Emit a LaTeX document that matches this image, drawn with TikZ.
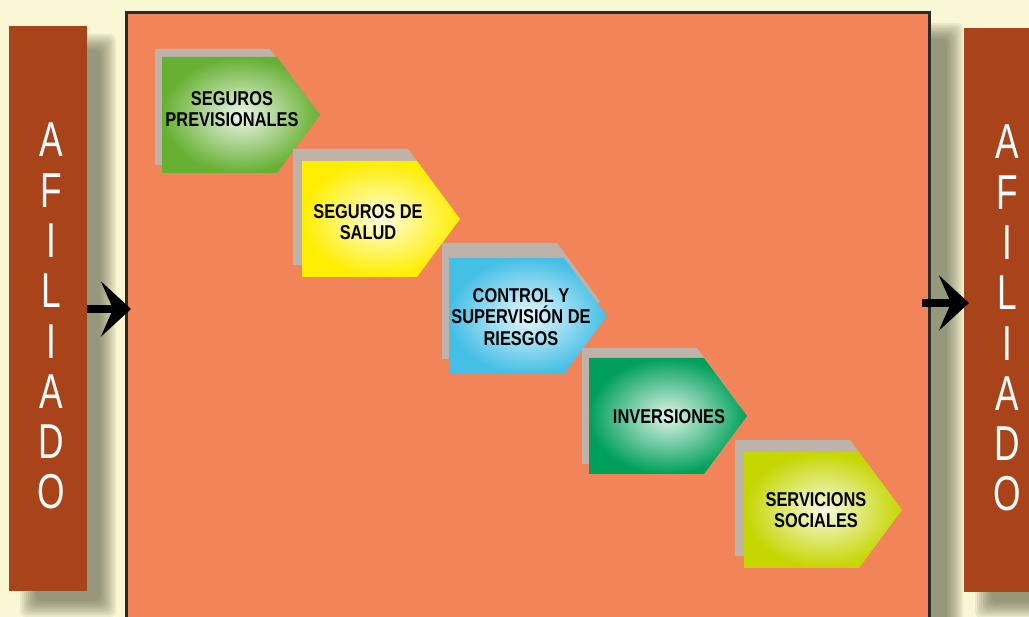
\documentclass[tikz,border=0pt]{standalone}
\usepackage{fontspec}
\usetikzlibrary{arrows.meta}
\newfontfamily\labfont{Liberation Sans Bold}[FakeStretch=0.82]
\newfontfamily\barfont{Liberation Sans}[FakeStretch=0.72]
\definecolor{cream}{HTML}{FAF7D5}
\definecolor{barc}{HTML}{A9441A}
\definecolor{mainc}{HTML}{F2845A}
\definecolor{grayc}{HTML}{BDB3AA}
\definecolor{borderc}{HTML}{2A2A2A}
\definecolor{shadc}{HTML}{55553F}
\definecolor{cgreen}{HTML}{66B032}
\definecolor{cyellow}{HTML}{FFEE00}
\definecolor{cblue}{HTML}{45BFE6}
\definecolor{cdgreen}{HTML}{00A05A}
\definecolor{cyg}{HTML}{C5D600}
\tikzset{
  sidebar/.style={fill=barc, minimum width=78pt, minimum height=565pt, inner sep=0pt},
  letter/.style={text=white, font=\barfont\fontsize{49}{49}\selectfont, inner sep=0pt, anchor=center},
  lab/.style={font=\labfont\fontsize{20}{21.5}\selectfont, align=center, text=black, inner sep=0pt},
  bigarrow/.style={line width=7.5pt, -{Stealth[length=30pt,width=55pt,inset=12pt]}},
  softshadow/.style={fill=shadc, opacity=0.09},
}
% soft shadow: #1 x1, #2 y1, #3 x2, #4 y2
\newcommand{\softshad}[4]{%
  \foreach \r in {9,7,...,-7}{
    \fill[softshadow, rounded corners=6pt] (#1-\r,#2-\r) rectangle (#3+\r,#4+\r);
  }
}
% #1 left, #2 top, #3 gray left, #4 gray top, #5 colour
\newcommand{\pentag}[5]{%
  \fill[grayc] (#3,#4) -- ++(115,0) -- ++(43,58) -- ++(-43,58) -- ++(-115,0) -- cycle;
  \shade[inner color=white!88!#5, outer color=#5] (#1,#2) -- ++(115,0) -- ++(43,58) -- ++(-43,58) -- ++(-115,0) -- cycle;
}
\begin{document}
\begin{tikzpicture}[x=1pt,y=-1pt]
\fill[cream] (0,0) rectangle (1029,617);
\useasboundingbox (0,0) rectangle (1029,617);
% shadows
\softshad{150}{32}{954}{660}
\softshad{29}{43}{107}{608}
\softshad{984}{45}{1060}{609}
% main panel
\node[fill=mainc, draw=borderc, line width=3pt, minimum width=803pt, minimum height=640pt, inner sep=0pt]
  (main) at (527.5,333) {};
% side bars
\node[sidebar] (lb) at (48,308.5) {};
\node[sidebar, minimum width=80pt, minimum height=564pt] (rb) at (1004,310) {};
\foreach \c [count=\i from 0] in {A,F,I,L,I,A,D,O}{
  \node[letter] (l\i) at (51,140+50.3*\i) {\c};
  \node[letter] (r\i) at (1007,142+50.3*\i) {\c};
}
% arrows
\coordinate (la) at (131,309);
\coordinate (ra) at (969,303);
\coordinate (rs) at (922,303);
\draw[bigarrow] (lb.east |- la) -- (la);
\draw[bigarrow] (rs) -- (ra);
% pentagons
\pentag{162}{57}{155}{49}{cgreen}
\pentag{302}{161}{293}{149}{cyellow}
\pentag{449}{258}{442}{243}{cblue}
\pentag{589}{358}{582}{348}{cdgreen}
\pentag{744}{452}{735}{440}{cyg}
\node[lab] (t1) at (232,109) {SEGUROS\\PREVISIONALES};
\node[lab] (t2) at (368,222) {SEGUROS DE\\SALUD};
\node[lab] (t3) at (521,317) {CONTROL Y\\SUPERVISIÓN DE\\RIESGOS};
\node[lab] (t4) at (669,417) {INVERSIONES};
\node[lab] (t5) at (816,510) {SERVICIONS\\SOCIALES};
\end{tikzpicture}
\end{document}
